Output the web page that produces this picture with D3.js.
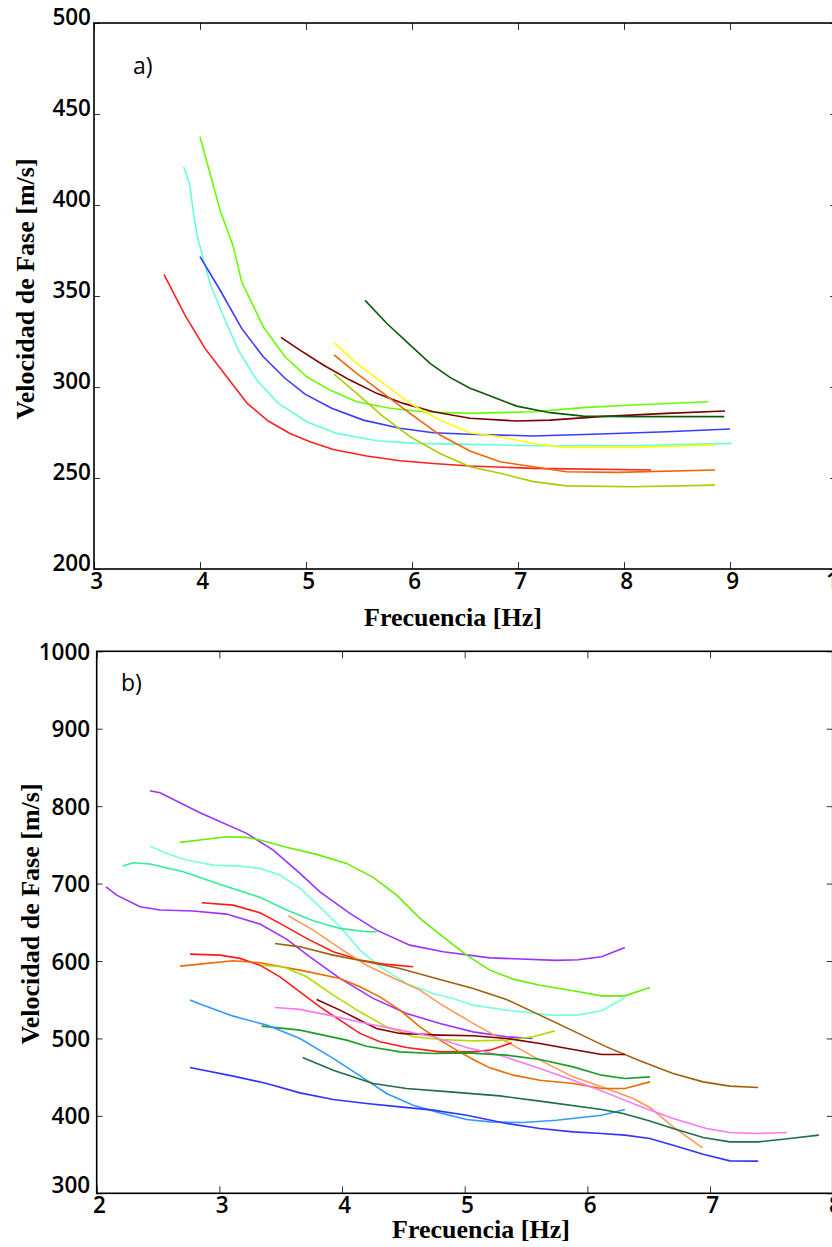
<!DOCTYPE html>
<html>
<head>
<meta charset="utf-8">
<script src="https://cdn.jsdelivr.net/npm/d3@7"></script>
<style>
  html, body { margin: 0; padding: 0; background: #fff; }
  .tick text { font-family: "Open Sans", sans-serif; font-weight: 600; font-size: 22.5px; fill: #000; }
  .tick line { stroke: #333; stroke-width: 1; }
  .axis path.domain { display: none; }
  .atitle { font-family: "Liberation Serif", "Times New Roman", serif; font-weight: bold; font-size: 26px; fill: #000; }
  .plabel { font-family: "Open Sans", sans-serif; font-size: 23px; fill: #000; }
</style>
</head>
<body>
<script>
// ---- panel a) : dispersion curves 3-10 Hz ----
const aXTicks = [3, 4, 5, 6, 7, 8, 9, 10];
const aYTicks = [200, 250, 300, 350, 400, 450, 500];

const aRed = [[3.66,361.9],[3.858,339.5],[4.047,321.2],[4.252,305.6],[4.446,291],[4.644,281.3],[4.849,274.5],[5.038,269.9],[5.258,265.7],[5.573,262.1],[5.887,259.5],[6.201,258],[6.547,256.6],[7.142,255.3],[8.255,254.4]];
const aCyan = [[3.846,421],[3.9,412],[3.94,395],[3.97,384],[4.0,377.1],[4.094,357],[4.236,336.8],[4.361,320.3],[4.535,303.8],[4.739,291],[5.007,280.9],[5.29,274.5],[5.667,270.5],[6.044,269],[6.547,268.5],[7.142,267.7],[8.085,267.7],[9.016,269]];
const aLime = [[4.0,437.5],[4.094,417.4],[4.189,397.2],[4.314,377.1],[4.393,357.8],[4.597,333.1],[4.802,316.6],[5.007,305.6],[5.226,298.3],[5.478,291.9],[5.792,288.3],[6.107,286.4],[6.547,285.5],[7.144,286.4],[7.648,288.8],[8.088,290.1],[8.795,291.9]];
const aBlue = [[4.0,371.6],[4.189,353.3],[4.393,332.2],[4.597,316.6],[4.802,304.8],[4.991,296.1],[5.242,288.3],[5.541,281.8],[5.887,277.3],[6.201,274.9],[6.547,274],[7.144,273.1],[7.774,274.2],[8.403,275.4],[9.0,276.9]];
const aMaroon = [[4.764,327.3],[4.943,320.3],[5.163,312.1],[5.415,303.8],[5.667,296.5],[5.918,291],[6.201,286.4],[6.547,282.8],[6.988,281.3],[7.302,281.8],[7.774,283.7],[8.403,285.5],[8.953,286.8]];
const aYellow = [[5.264,324.3],[5.478,313],[5.729,302],[5.981,291],[6.264,281.8],[6.547,274.9],[6.83,272.7],[7.144,269],[7.459,266.8],[8.088,266.8],[8.858,268.1]];
const aOrange = [[5.264,317.6],[5.478,307.5],[5.729,296.5],[5.981,285.5],[6.264,273.6],[6.547,264.8],[6.83,258.9],[7.144,256.2],[7.459,253.4],[7.931,253.1],[8.858,254.4]];
const aYellowGreen = [[5.264,307.1],[5.478,296.5],[5.729,283.7],[5.981,272.7],[6.264,263.5],[6.547,256.2],[6.83,252.6],[7.144,248],[7.459,245.7],[8.088,245.2],[8.858,246.1]];
const aDarkGreen = [[5.557,347.6],[5.761,335],[5.981,323.1],[6.17,313],[6.358,305.3],[6.547,299.3],[6.673,296.5],[6.988,289.5],[7.302,285.9],[7.616,284],[8.088,283.7],[8.946,283.7]];

const aSeries = [aRed, aCyan, aLime, aBlue, aMaroon, aYellow, aOrange, aYellowGreen, aDarkGreen];
const aColors = ["#ff2020", "#66ffdd", "#66ff00", "#3b3bff", "#7a0000", "#ffff00", "#ee6600", "#aacc00", "#0a5a0a"];

// ---- panel b) : dispersion curves 2-8 Hz ----
const bXTicks = [2, 3, 4, 5, 6, 7, 8];
const bYTicks = [300, 400, 500, 600, 700, 800, 900, 1000];

const bPurpleHigh = [[2.434,819.9],[2.516,817.3],[2.842,791.5],[3.222,764.9],[3.439,743.3],[3.657,713.2],[3.82,689.4],[4.064,661.5],[4.282,639.9],[4.553,620.5],[4.825,611.9],[5.205,604.1],[5.749,600.8],[5.925,601.6],[6.116,605.4],[6.306,617.6]];
const bLime = [[2.679,753.2],[2.842,756.2],[3.059,760.5],[3.222,759.7],[3.331,756.2],[3.548,746.8],[3.793,737.7],[4.037,726.1],[4.254,708],[4.445,685.1],[4.635,655],[4.806,633.5],[5.016,607.6],[5.205,588.2],[5.395,576.6],[5.612,568.8],[5.884,561.5],[6.116,555],[6.306,555],[6.51,565.9]];
const bLightCyan = [[2.434,748.4],[2.57,739],[2.733,730.4],[2.95,723.9],[3.168,722.6],[3.331,719.6],[3.494,711],[3.657,693.8],[3.82,670],[3.984,644.2],[4.147,614.1],[4.31,592.5],[4.526,571.1],[4.743,558.1],[4.906,551.7],[5.069,543],[5.341,536.6],[5.694,530.1],[5.912,530.1],[6.116,535.7],[6.306,552.5]];
const bSpringGreen = [[2.212,722.6],[2.298,726.9],[2.434,725.2],[2.706,715.2],[2.978,700.3],[3.331,682.2],[3.548,665.8],[3.765,651.9],[3.983,642.1],[4.2,637.7],[4.282,637.7]];
const bPurpleLow = [[2.076,695.9],[2.163,685.1],[2.353,670],[2.516,665.8],[2.787,664.5],[3.059,660.6],[3.331,647.7],[3.548,628.3],[3.738,605.4],[3.983,577.5],[4.254,551.7],[4.526,532.3],[4.798,519.4],[5.069,508.5],[5.341,502.1],[5.553,500]];
const bRedHigh = [[2.856,675.2],[3.113,672.2],[3.331,662.3],[3.494,648.6],[3.711,629.2],[3.928,611.9],[4.146,601.2],[4.363,595.6],[4.58,592.5]];
const bLightOrange = [[3.562,658.4],[3.765,639.9],[3.983,616.3],[4.2,594.5],[4.417,578],[4.635,562.4],[4.798,545],[5.069,519.4],[5.341,495.6],[5.613,472],[5.884,450.4],[6.156,435.4],[6.373,422.5],[6.509,410.8],[6.699,385.8],[6.939,358.7]];
const bBrown = [[3.453,622.7],[3.657,618.3],[3.928,607.6],[4.2,599],[4.472,590.4],[4.798,576.2],[5.069,564.6],[5.341,550.4],[5.613,530.1],[5.884,509.8],[6.156,489.1],[6.428,471.1],[6.699,454.8],[6.944,443.9],[7.161,438.4],[7.392,436.7]];
const bRedLow = [[2.76,608.9],[3.005,607.6],[3.168,603.4],[3.331,594.7],[3.494,579.6],[3.657,560.2],[3.82,540.8],[3.983,523.6],[4.146,506.5],[4.309,495.6],[4.526,488.4],[4.798,482.7],[5.069,482.7],[5.205,484.9],[5.382,494.3]];
const bOrange = [[2.679,593.4],[2.842,596],[3.113,600.3],[3.331,597.7],[3.657,588.2],[3.983,577.5],[4.146,566.7],[4.309,553.7],[4.472,536.6],[4.635,515],[4.798,497.8],[4.934,484.9],[5.069,472.9],[5.205,462],[5.395,452.6],[5.613,446.1],[5.884,441.9],[6.116,435.4],[6.306,435.4],[6.51,443.9]];
const bYellowGreen = [[3.345,594.7],[3.521,592.5],[3.711,579.6],[3.928,555.9],[4.146,534.4],[4.363,515],[4.58,502.1],[4.798,498.7],[5.069,496.9],[5.341,497.8],[5.558,502.1],[5.735,509.8]];
const bDarkRed = [[3.793,550.4],[3.983,536.6],[4.146,523.6],[4.282,512.9],[4.472,506.5],[4.798,504.3],[5.069,503.4],[5.341,500],[5.613,493.5],[5.884,485.8],[6.116,479.3],[6.306,479.3]];
const bPink = [[3.453,540],[3.657,537.5],[3.928,528.8],[4.2,519.4],[4.472,510.7],[4.743,502.1],[5.016,488.4],[5.287,478.4],[5.613,461.2],[5.884,446.1],[6.156,429.7],[6.428,412.5],[6.699,396.6],[6.971,383.7],[7.161,378.5],[7.379,377.3],[7.628,378.5]];
const bGreen = [[3.345,515.9],[3.657,510.7],[4.037,497.8],[4.2,490],[4.472,482.7],[4.743,480.6],[5.016,481.4],[5.341,478.4],[5.613,472.9],[5.884,463.3],[6.116,452.6],[6.306,448.3],[6.51,450.4]];
const bLightBlue = [[2.76,549.7],[2.842,544.5],[3.113,528.8],[3.386,517.2],[3.657,500],[3.928,474.2],[4.2,446.1],[4.363,428.9],[4.58,413.8],[4.798,403.9],[5.016,395.4],[5.205,392.2],[5.477,391.5],[5.749,394.4],[6.116,400.9],[6.306,408.3]];
const bDarkTeal = [[3.679,475.5],[3.928,459],[4.254,441.9],[4.526,435.4],[4.879,431],[5.287,425.8],[5.613,419],[6.116,408.3],[6.292,403.1],[6.509,393.5],[6.699,383.7],[6.944,372.1],[7.161,366.4],[7.392,366.4],[7.65,370.8],[7.887,375.1]];
const bBlue = [[2.76,462.5],[3.113,451.3],[3.386,441.9],[3.657,429.7],[3.928,421.2],[4.2,416],[4.472,411.6],[4.743,407.4],[5.016,400.9],[5.341,390.2],[5.613,383.7],[5.884,379.3],[6.116,377.3],[6.306,375.1],[6.509,370.8],[6.699,362.1],[6.944,350.5],[7.161,341.9],[7.392,341.5]];

const bSeries = [bPurpleHigh, bLime, bLightCyan, bSpringGreen, bPurpleLow, bRedHigh, bLightOrange, bBrown, bRedLow, bOrange, bYellowGreen, bDarkRed, bPink, bGreen, bLightBlue, bDarkTeal, bBlue];
const bColors = ["#9933ff", "#66ee00", "#77ffdd", "#33ee99", "#9933ff", "#ff1a1a", "#ff9955", "#a0600a", "#ff1a1a", "#ee6a00", "#b0dd00", "#800000", "#ff77ee", "#1a9e2a", "#3399ff", "#1e6e46", "#3333ff"];

const svg = d3.select("body").append("svg")
    .attr("width", 832)
    .attr("height", 1247);

const fmt = d3.format("d");

function drawPanel(opt) {
    const x = d3.scaleLinear().domain(opt.xDomain).range([opt.left, opt.right]);
    const y = d3.scaleLinear().domain(opt.yDomain).range([opt.bottom, opt.top]);
    const g = svg.append("g");

    // curves
    const line = d3.line().x(d => x(d[0])).y(d => y(d[1]));
    g.append("g").selectAll("path")
        .data(opt.series)
        .enter().append("path")
        .attr("d", line)
        .attr("fill", "none")
        .attr("stroke", (d, i) => opt.colors[i])
        .attr("stroke-width", 1.6);

    // axes, ticks pointing inside
    const bottom = g.append("g").attr("class", "axis")
        .attr("transform", `translate(0,${opt.bottom})`)
        .call(d3.axisBottom(x).tickValues(opt.xTicks).tickFormat(fmt).tickSizeInner(-7).tickSizeOuter(0).tickPadding(4));
    bottom.selectAll("text").attr("dx", "0.1em");

    g.append("g").attr("class", "axis")
        .attr("transform", `translate(0,${opt.top})`)
        .call(d3.axisTop(x).tickValues(opt.xTicks).tickSizeInner(-7).tickSizeOuter(0).tickFormat(""));

    const left = g.append("g").attr("class", "axis")
        .attr("transform", `translate(${opt.left},0)`)
        .call(d3.axisLeft(y).tickValues(opt.yTicks).tickFormat(fmt).tickSizeInner(-6).tickSizeOuter(0).tickPadding(opt.yPad));
    left.selectAll("text").attr("dy", opt.yDy);
    if (opt.lastYShift) {
        left.selectAll("text").filter(d => d === opt.yDomain[0]).attr("dy", opt.lastYShift);
    }

    g.append("g").attr("class", "axis")
        .attr("transform", `translate(${opt.right},0)`)
        .call(d3.axisRight(y).tickValues(opt.yTicks).tickSizeInner(-6).tickSizeOuter(0).tickFormat(""));

    // frame
    g.append("rect")
        .attr("x", opt.left).attr("y", opt.top)
        .attr("width", opt.right - opt.left).attr("height", opt.bottom - opt.top)
        .attr("fill", "none").attr("stroke", "#000").attr("stroke-width", 1.6);

    g.append("text").attr("class", "atitle")
        .attr("x", opt.xTitle[0]).attr("y", opt.xTitle[1])
        .attr("text-anchor", "middle")
        .text("Frecuencia [Hz]");

    g.append("text").attr("class", "atitle")
        .attr("transform", `translate(${opt.yTitle[0]},${opt.yTitle[1]}) rotate(-90)`)
        .attr("text-anchor", "middle")
        .text("Velocidad de Fase [m/s]");

    g.append("text").attr("class", "plabel")
        .attr("x", opt.label[0]).attr("y", opt.label[1])
        .text(opt.labelText);
}

drawPanel({
    xDomain: [3, 10], yDomain: [200, 500],
    left: 94, right: 836, top: 23, bottom: 569,
    xTicks: aXTicks, yTicks: aYTicks,
    series: aSeries, colors: aColors,
    yPad: 3, yDy: "0.05em",
    xTitle: [453, 626], yTitle: [34, 289],
    label: [133, 74], labelText: "a)"
});

drawPanel({
    xDomain: [2, 8], yDomain: [300, 1000],
    left: 96.7, right: 832.7, top: 651.3, bottom: 1193.3,
    xTicks: bXTicks, yTicks: bYTicks,
    series: bSeries, colors: bColors,
    yPad: 6.5, yDy: "0.36em", lastYShift: "-0.05em",
    xTitle: [481, 1238], yTitle: [39, 914],
    label: [121, 691], labelText: "b)"
});
</script>
</body>
</html>
